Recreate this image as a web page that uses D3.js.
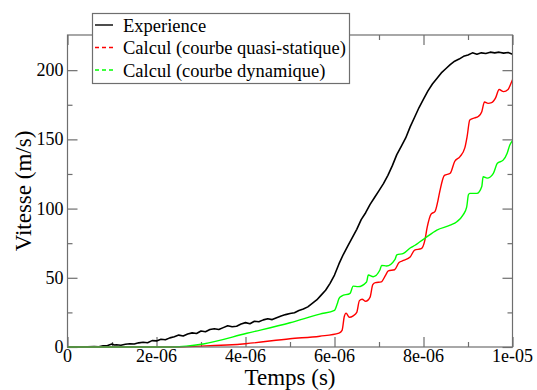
<!DOCTYPE html>
<html>
<head>
<meta charset="utf-8">
<script src="https://cdn.jsdelivr.net/npm/d3@7"></script>
<style>
  body { margin: 0; background: #fff; }
  svg { display: block; }
  text { font-family: "Liberation Serif", "Times New Roman", serif; }
</style>
</head>
<body>
<svg width="537" height="390"></svg>
<script>
// time in microseconds, velocity in m/s
var tExp = [0, 0.3, 0.6, 0.7, 0.8, 0.9, 1.0, 1.05, 1.1, 1.2, 1.3, 1.4, 1.5, 1.6, 1.7, 1.8, 1.9, 2.0, 2.1, 2.2,
            2.3, 2.4, 2.5, 2.6, 2.7, 2.8, 2.9, 3.0, 3.1, 3.2, 3.3, 3.4, 3.5, 3.6, 3.7, 3.8, 3.9, 4.0, 4.1, 4.2,
            4.3, 4.4, 4.5, 4.6, 4.7, 4.8, 4.9, 5.0, 5.1, 5.2, 5.3, 5.4, 5.5, 5.6, 5.7, 5.8, 5.9, 6.0, 6.1, 6.2,
            6.3, 6.4, 6.5, 6.6, 6.7, 6.8, 6.9, 7.0, 7.1, 7.2, 7.3, 7.4, 7.5, 7.6, 7.7, 7.8, 7.9, 8.0, 8.1, 8.2,
            8.3, 8.4, 8.5, 8.6, 8.7, 8.8, 8.9, 9.0, 9.1, 9.2, 9.3, 9.4, 9.5, 9.6, 9.7, 9.8, 9.9, 10.0];
var vExp = [0, 0, 0.3, 0.2, 0.8, 1.0, 2.2, 1.4, 1.6, 1.3, 2.0, 2.4, 2.2, 3.0, 3.4, 3.1, 4.6, 4.4, 5.6, 5.2,
            6.6, 7.4, 8.6, 8.0, 9.4, 10.2, 9.8, 11.6, 11.0, 12.6, 13.2, 12.6, 14.0, 15.4, 14.6, 15.0, 16.6, 17.6, 16.8, 18.6,
            18.2, 19.6, 20.4, 19.8, 21.2, 22.4, 23.4, 24.2, 24.8, 26.4, 27.4, 29.0, 31.5, 34, 37.5, 41, 46, 52, 60, 67,
            73, 79, 85, 92, 97, 103, 108, 113, 118, 124, 131, 139, 145, 151, 159, 166, 173, 179, 185, 190,
            194, 198, 201, 204, 206.5, 208, 210, 211, 212.5, 211.5, 212.5, 212, 213, 212.5, 213, 212.3, 212.8, 211.5];

var tQs = [0, 2.45, 3.0, 4.0, 5.0, 5.67, 6.1, 6.17, 6.22, 6.26, 6.33, 6.42, 6.5, 6.56, 6.62, 6.7, 6.8, 6.86, 6.92, 7.05,
           7.15, 7.21, 7.35, 7.45, 7.55, 7.7, 7.8, 7.95, 8.03, 8.08, 8.17, 8.26, 8.32, 8.37, 8.47, 8.6, 8.7, 8.82, 8.93, 8.98,
           9.04, 9.15, 9.23, 9.31, 9.37, 9.45, 9.53, 9.62, 9.7, 9.8, 9.9, 9.96, 10.0];
var vQs = [0, 0, 0.6, 2.4, 6, 7.8, 10, 12, 22, 24.5, 21.5, 22.5, 25, 33.5, 34.5, 33, 36, 45, 46.5, 47,
           52, 55, 55.8, 61, 62.5, 65, 70, 71, 77, 86, 96, 98, 105, 113, 124, 125.5, 134, 137.5, 144, 152,
           164, 165.5, 166.5, 170, 177, 176, 176.5, 180, 186, 184.5, 186, 190, 193];

var tDyn = [0, 2.37, 3.05, 4.03, 5.0, 5.67, 6.0, 6.06, 6.1, 6.16, 6.35, 6.42, 6.53, 6.72, 6.76, 6.87, 7.02, 7.06, 7.17, 7.36,
            7.4, 7.55, 7.7, 7.81, 7.92, 8.03, 8.3, 8.6, 8.75, 8.89, 8.97, 9.01, 9.04, 9.2, 9.31, 9.34, 9.43, 9.57, 9.66, 9.79,
            9.88, 9.94, 10.0];
var vDyn = [0, 0, 2.2, 9.9, 17.5, 23.8, 26.5, 31, 35, 36.8, 38.8, 44, 43.6, 47, 52, 50.8, 55.6, 59, 58.5, 63.3,
            66.5, 67.7, 71.5, 73.5, 76, 78.5, 84.5, 88, 90.5, 95.4, 101, 110, 111, 111, 116, 123, 122, 125.5, 132.7, 135,
            140, 146, 149];

var xTicks = [0, 2e-6, 4e-6, 6e-6, 8e-6, 1e-5];
var xTickLabels = ["0", "2e-06", "4e-06", "6e-06", "8e-06", "1e-05"];
var xMinor = [1e-6, 3e-6, 5e-6, 7e-6, 9e-6];
var yTicks = [0, 50, 100, 150, 200];
var yMinor = [25, 75, 125, 175];

var legendNames = ["Experience", "Calcul (courbe quasi-statique)", "Calcul (courbe dynamique)"];
var colors = ["#000000", "#ff0000", "#00ff00"];

var svg = d3.select("svg"),
    plotLeft = 67.5, plotRight = 512.5, plotTop = 35, plotBottom = 347;

var x = d3.scaleLinear().domain([0, 1e-5]).range([plotLeft, plotRight]);
var y = d3.scaleLinear().domain([0, 225.4]).range([plotBottom, plotTop]);

function pts(t, v) {
    return t.map(function(d, i) { return [d * 1e-6, v[i]]; });
}
var series = [pts(tExp, vExp), pts(tQs, vQs), pts(tDyn, vDyn)];

var frameColor = "#6e6e6e";

// ticks pointing inward on all four sides
function tickAxis(axis, vals, len) {
    return axis.tickValues(vals).tickSize(len).tickFormat("");
}
var g = svg.append("g").attr("class", "ticks");
[[xTicks, 10], [xMinor, 5]].forEach(function(p) {
    g.append("g").attr("transform", "translate(0," + plotBottom + ")")
        .call(tickAxis(d3.axisTop(x), p[0], p[1]));
    g.append("g").attr("transform", "translate(0," + plotTop + ")")
        .call(tickAxis(d3.axisBottom(x), p[0], p[1]));
});
[[yTicks, 10], [yMinor, 5]].forEach(function(p) {
    g.append("g").attr("transform", "translate(" + plotLeft + ",0)")
        .call(tickAxis(d3.axisRight(y), p[0], p[1]));
    g.append("g").attr("transform", "translate(" + plotRight + ",0)")
        .call(tickAxis(d3.axisLeft(y), p[0], p[1]));
});
g.selectAll(".domain").remove();
g.selectAll("line").attr("stroke", frameColor).attr("stroke-width", 1.2);

// curves
var line = d3.line()
    .x(function(d) { return x(d[0]); })
    .y(function(d) { return y(d[1]); });

series.forEach(function(s, i) {
    svg.append("path")
        .datum(s)
        .attr("fill", "none")
        .attr("stroke", colors[i])
        .attr("stroke-width", i == 0 ? 1.6 : 1.4)
        .attr("stroke-linejoin", "round")
        .attr("d", line.curve(i == 0 ? d3.curveLinear : d3.curveMonotoneX));
});

// frame
svg.append("rect")
    .attr("x", plotLeft).attr("y", plotTop)
    .attr("width", plotRight - plotLeft).attr("height", plotBottom - plotTop)
    .attr("fill", "none")
    .attr("stroke", frameColor)
    .attr("stroke-width", 1.2);

// tick labels
svg.append("g").selectAll("text")
    .data(xTicks)
    .enter().append("text")
    .attr("x", function(d) { return x(d); })
    .attr("y", 362)
    .attr("text-anchor", "middle")
    .attr("font-size", 18)
    .text(function(d, i) { return xTickLabels[i]; });

svg.append("g").selectAll("text")
    .data(yTicks)
    .enter().append("text")
    .attr("x", plotLeft - 4)
    .attr("y", function(d) { return y(d) + 6; })
    .attr("text-anchor", "end")
    .attr("font-size", 18)
    .text(function(d) { return d; });

// axis titles
svg.append("text")
    .attr("x", (plotLeft + plotRight) / 2)
    .attr("y", 385)
    .attr("text-anchor", "middle")
    .attr("font-size", 23)
    .text("Temps (s)");

svg.append("text")
    .attr("transform", "translate(31," + (plotTop + plotBottom) / 2 + ") rotate(-90)")
    .attr("text-anchor", "middle")
    .attr("font-size", 23)
    .text("Vitesse (m/s)");

// legend
var legend = svg.append("g");
legend.append("rect")
    .attr("x", 92.5).attr("y", 13.5)
    .attr("width", 257).attr("height", 70)
    .attr("fill", "#fff")
    .attr("stroke", frameColor)
    .attr("stroke-width", 1.2);

legendNames.forEach(function(name, i) {
    var ly = 25 + i * 22.5;
    legend.append("line")
        .attr("x1", 95).attr("x2", 113)
        .attr("y1", ly).attr("y2", ly)
        .attr("stroke", colors[i])
        .attr("stroke-width", 1.4)
        .attr("stroke-dasharray", i == 0 ? null : "4,3");
    legend.append("text")
        .attr("x", 123)
        .attr("y", ly + 6.5)
        .attr("font-size", 18.5)
        .text(name);
});
</script>
</body>
</html>
